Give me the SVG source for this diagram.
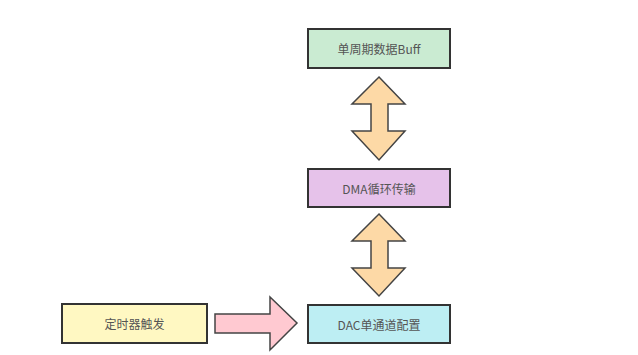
<svg xmlns="http://www.w3.org/2000/svg" width="638" height="355" viewBox="0 0 638 355">
<style>
.box{stroke:#333;stroke-width:2}
.lbl{font-family:"Noto Sans CJK SC","Liberation Sans",sans-serif;font-size:12px;fill:#555;text-anchor:middle;dominant-baseline:central}
.arr{stroke:#444;stroke-width:1.5;stroke-linejoin:miter}
</style>
<rect width="638" height="355" fill="#fff"/>
<g id="connectors">
<path class="arr" fill="#fdd9a6" d="M379,77 L405,104 L388,104 L388,131 L405,131 L379,160 L352,131 L371,131 L371,104 L352,104 Z"/>
<path class="arr" fill="#fdd9a6" d="M379,214 L405,241 L388,241 L388,268 L405,268 L379,296 L352,268 L371,268 L371,241 L352,241 Z"/>
<path class="arr" fill="#ffc9d1" d="M215,314 L270,314 L270,297 L297,323 L270,350 L270,333 L215,333 Z"/>
</g>
<g id="buff">
<rect class="box" x="308" y="29" width="142" height="39" fill="#caebd2"/>
<text class="lbl" x="379" y="48.5">单周期数据Buff</text>
</g>
<g id="dma">
<rect class="box" x="308" y="169" width="142" height="38" fill="#e6c2ea"/>
<text class="lbl" x="379" y="188">DMA循环传输</text>
</g>
<g id="dac">
<rect class="box" x="308" y="305" width="142" height="38" fill="#bdeef3"/>
<text class="lbl" x="379" y="324">DAC单通道配置</text>
</g>
<g id="timer">
<rect class="box" x="62" y="304" width="145" height="39" fill="#fff8c2"/>
<text class="lbl" x="134.5" y="323.5">定时器触发</text>
</g>
</svg>
